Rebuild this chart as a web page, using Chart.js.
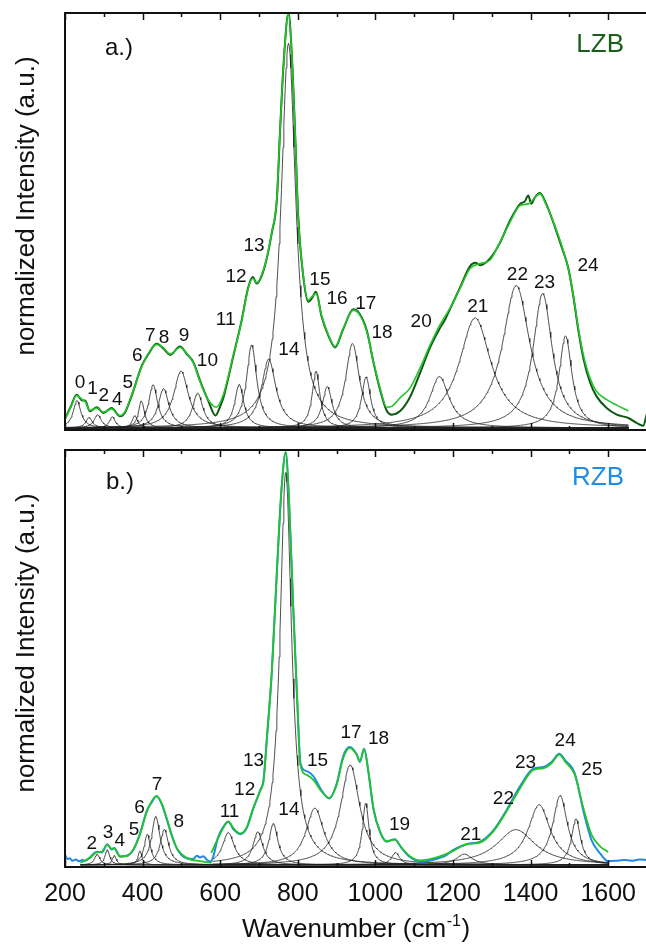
<!DOCTYPE html>
<html>
<head>
<meta charset="utf-8">
<script src="https://cdn.jsdelivr.net/npm/chart.js@4.4.1/dist/chart.umd.min.js"></script>
<style>
html,body{margin:0;padding:0;overflow:hidden;background:#fff;width:646px;height:947px;}
#wrap{position:relative;width:650px;height:947px;}
canvas{display:block;}
</style>
</head>
<body>
<div id="wrap">
<canvas id="cTop" width="650" height="440"></canvas>
<canvas id="cBot" width="650" height="507"></canvas>
</div>
<script>
// ---------------- axis ticks ----------------
const xTickValues = [200, 400, 600, 800, 1000, 1200, 1400, 1600];
const xTickLabels = ['200', '400', '600', '800', '1000', '1200', '1400', '1600'];
const xMinorTicks = [300, 500, 700, 900, 1100, 1300, 1500, 1700];

// ---------------- a.) LZB ----------------
const lzbFitWave = [200,215,230,245,252,264,282,299,320,342,355,372,398,415,436,453,471,496,514,531,548,569,590,608,634,655,672,684,694,715,733,746,754,763,776,784,793,801,814,827,836,847,861,879,896,917,943,960,978,995,1012,1029,1042,1063,1089,1115,1141,1166,1192,1218,1244,1270,1295,1321,1347,1373,1394,1424,1441,1459,1480,1497,1510,1523,1536,1553,1570,1596,1622,1652];
const lzbFitInt = [0.020,0.050,0.078,0.068,0.064,0.042,0.048,0.038,0.046,0.030,0.040,0.080,0.148,0.180,0.201,0.194,0.178,0.194,0.180,0.156,0.112,0.068,0.050,0.080,0.176,0.256,0.336,0.360,0.350,0.392,0.472,0.552,0.712,0.871,1.000,0.911,0.712,0.511,0.368,0.308,0.316,0.324,0.272,0.224,0.196,0.240,0.284,0.272,0.232,0.160,0.096,0.050,0.052,0.072,0.096,0.144,0.200,0.248,0.288,0.336,0.384,0.396,0.404,0.448,0.496,0.536,0.540,0.564,0.536,0.496,0.440,0.384,0.320,0.240,0.176,0.120,0.088,0.068,0.055,0.041];
const lzbDataWave = [200,215,230,245,252,264,282,299,320,342,355,372,398,415,436,453,471,496,514,531,548,569,588,600,608,634,655,672,684,694,715,733,746,754,763,776,784,793,801,814,827,836,847,861,879,896,917,943,960,978,995,1012,1029,1042,1063,1089,1115,1141,1166,1180,1192,1218,1244,1258,1270,1295,1321,1347,1373,1385,1394,1402,1410,1424,1441,1459,1480,1497,1510,1523,1536,1553,1570,1596,1622,1652,1673,1690,1700];
const lzbDataInt = [0.022,0.052,0.080,0.066,0.066,0.040,0.050,0.036,0.048,0.028,0.038,0.078,0.150,0.178,0.203,0.192,0.176,0.196,0.178,0.158,0.114,0.066,0.030,0.052,0.072,0.174,0.258,0.338,0.364,0.348,0.390,0.470,0.550,0.710,0.872,1.000,0.910,0.712,0.512,0.366,0.304,0.312,0.328,0.270,0.222,0.194,0.238,0.286,0.274,0.234,0.158,0.092,0.042,0.032,0.040,0.074,0.132,0.194,0.240,0.262,0.286,0.338,0.390,0.398,0.392,0.408,0.446,0.500,0.540,0.546,0.560,0.540,0.554,0.566,0.538,0.494,0.436,0.386,0.318,0.236,0.168,0.110,0.076,0.048,0.032,0.024,0.012,0.005,0.035];
const lzbFitWindows = [[200, 1652]];
const lzbPeakNames   = ['0','1','2','4','5','6','7','8','9','10','11','12','13','14','15','16','17','18','20','21','22','23','24'];
const lzbPeakCenters = [231,262,284,322,380,397,427,454,499,542,649,681,776,725,847,876,941,976,1165,1257,1363,1431,1490];
const lzbPeakHeights = [0.066,0.025,0.032,0.027,0.030,0.066,0.104,0.095,0.137,0.084,0.105,0.200,0.927,0.166,0.137,0.100,0.204,0.123,0.124,0.265,0.343,0.324,0.222];
const lzbPeakFwhm    = [24,20,22,18,16,18,28,33,46,32,28,32,46,45,24,30,43,28,60,100,86,60,40];
const lzbLabelWave   = [239,271,300,335,362,386,420,455,507,567,614,641,687,777,857,901,975,1017,1118,1264,1366,1436,1548];
const lzbLabelInt    = [0.110,0.094,0.077,0.068,0.108,0.174,0.221,0.218,0.221,0.162,0.260,0.365,0.438,0.189,0.357,0.312,0.300,0.229,0.257,0.293,0.368,0.350,0.391];

// ---------------- b.) RZB ----------------
const rzbFitLeftWave = [240,264,282,295,309,320,327,342,359,376,393,411,423,436,449,462,475,488,514,548,578];
const rzbFitLeftInt = [0.005,0.017,0.030,0.032,0.049,0.039,0.039,0.021,0.021,0.037,0.073,0.129,0.153,0.165,0.149,0.113,0.073,0.041,0.017,0.009,0.005];
const rzbFitRightWave = [577,595,608,621,634,651,668,685,703,712,720,733,746,758,769,778,788,799,807,823,840,861,881,900,917,934,952,960,971,982,995,1012,1029,1050,1068,1089,1115,1158,1201,1235,1270,1304,1338,1373,1407,1433,1454,1474,1489,1514,1536,1557,1579,1600];
const rzbFitRightInt = [0.029,0.065,0.089,0.105,0.089,0.076,0.090,0.137,0.178,0.205,0.300,0.464,0.704,0.904,0.996,0.864,0.624,0.384,0.240,0.217,0.205,0.177,0.161,0.193,0.257,0.282,0.265,0.250,0.279,0.225,0.137,0.081,0.057,0.061,0.041,0.021,0.011,0.018,0.034,0.050,0.054,0.081,0.129,0.185,0.229,0.233,0.245,0.266,0.249,0.217,0.137,0.073,0.045,0.031];
const rzbDataWave = [200,206,212,220,228,236,244,252,264,282,295,309,320,327,342,359,376,393,411,423,436,449,462,475,488,500,514,530,540,548,556,566,575,582,595,608,621,634,651,668,685,703,712,720,733,746,758,769,778,788,799,807,823,840,861,881,900,917,934,952,960,971,982,995,1012,1029,1050,1068,1089,1115,1140,1158,1180,1201,1235,1270,1304,1338,1373,1407,1433,1454,1474,1489,1514,1536,1557,1579,1600,1620,1640,1660,1680,1700];
const rzbDataInt = [0.025,0.014,0.016,0.010,0.013,0.009,0.012,0.010,0.018,0.032,0.030,0.050,0.037,0.041,0.020,0.022,0.036,0.075,0.131,0.150,0.166,0.147,0.111,0.071,0.040,0.024,0.016,0.014,0.022,0.018,0.021,0.012,0.008,0.020,0.068,0.092,0.104,0.086,0.074,0.088,0.135,0.180,0.207,0.302,0.466,0.706,0.906,0.994,0.866,0.626,0.386,0.244,0.226,0.214,0.180,0.160,0.195,0.262,0.284,0.266,0.248,0.280,0.224,0.134,0.079,0.056,0.062,0.040,0.019,0.008,0.010,0.015,0.022,0.036,0.050,0.056,0.083,0.132,0.190,0.232,0.236,0.248,0.268,0.252,0.220,0.130,0.060,0.028,0.009,0.010,0.012,0.010,0.013,0.012];
const rzbFitWindows = [[240, 580], [580, 1600]];
const rzbPeakNames   = ['2','3','4','5','6','7','8','11','12','13','14','15','17','18','19','21','22','23','24','25'];
const rzbPeakCenters = [283,309,327,393,412,434,456,621,697,769,737,844,935,975,1052,1229,1362,1422,1476,1517];
const rzbPeakHeights = [0.026,0.037,0.023,0.034,0.074,0.117,0.086,0.078,0.080,0.948,0.100,0.137,0.241,0.149,0.030,0.026,0.085,0.145,0.167,0.111];
const rzbPeakFwhm    = [16,14,12,12,20,26,26,37,30,36,28,56,60,21,25,50,120,69,46,28];
const rzbLabelWave   = [269,311,341,378,392,437,493,624,663,686,777,851,937,1008,1062,1246,1330,1387,1489,1558];
const rzbLabelInt    = [0.050,0.077,0.058,0.085,0.137,0.194,0.103,0.128,0.182,0.252,0.134,0.251,0.319,0.303,0.097,0.072,0.160,0.246,0.300,0.230];

// ---------------- helpers ----------------
const FONT = '"Liberation Sans", Arial, Helvetica, sans-serif';
const FIT_GREEN = '#22c42a';

function zip(xs, ys) { return xs.map((x, i) => ({ x: x, y: ys[i] })); }

// Lorentzian fit component defined by the read centre / height / FWHM
function componentPoints(c, h, fwhm, windows) {
  const win = windows.find(w => c >= w[0] && c <= w[1]) || windows[0];
  const hw = fwhm / 2, pts = [];
  for (let x = win[0]; x <= win[1]; x += 2) pts.push({ x: x, y: h / (1 + ((x - c) / hw) * ((x - c) / hw)) });
  return pts;
}

function componentSets(centers, heights, fwhm, windows) {
  return centers.map((c, i) => ({
    data: componentPoints(c, heights[i], fwhm[i], windows),
    borderColor: 'rgba(35,35,35,0.8)', borderWidth: 1, pointRadius: 0, order: 3, tension: 0,
    borderJoinStyle: 'round'
  }));
}

function lineSet(xs, ys, color, width, order) {
  return { data: zip(xs, ys), borderColor: color, borderWidth: width, pointRadius: 0,
           order: order, cubicInterpolationMode: 'monotone' };
}

const decor = {
  id: 'decor',
  afterDraw(chart, args, o) {
    const { ctx, chartArea: a, scales: { x, y } } = chart;
    ctx.save();
    // inward tick marks, top and bottom
    ctx.strokeStyle = '#111';
    ctx.lineWidth = 1.5;
    const tick = (v, len) => {
      const px = Math.round(x.getPixelForValue(v)) + 0.5;
      ctx.beginPath();
      ctx.moveTo(px, a.top); ctx.lineTo(px, a.top + len);
      ctx.moveTo(px, a.bottom); ctx.lineTo(px, a.bottom - len);
      ctx.stroke();
    };
    xTickValues.forEach(v => tick(v, 7));
    xMinorTicks.forEach(v => tick(v, 4));
    // frame
    ctx.lineWidth = 2;
    ctx.strokeRect(a.left, a.top, a.right - a.left, a.bottom - a.top);
    // peak numbers
    ctx.fillStyle = '#111';
    ctx.font = '19px ' + FONT;
    ctx.textAlign = 'center';
    ctx.textBaseline = 'middle';
    o.names.forEach((n, i) => ctx.fillText(n, x.getPixelForValue(o.labelWave[i]), y.getPixelForValue(o.labelInt[i])));
    // panel tag
    ctx.font = '24px ' + FONT;
    ctx.textAlign = 'left';
    ctx.fillText(o.tag, o.tagX, o.tagY);
    // sample name
    ctx.font = '26px ' + FONT;
    ctx.fillStyle = o.sampleColor;
    ctx.textAlign = 'right';
    ctx.fillText(o.sample, o.sampleX, o.sampleY);
    // y title
    ctx.fillStyle = '#111';
    ctx.font = '26px ' + FONT;
    ctx.textAlign = 'center';
    ctx.save();
    ctx.translate(o.yTitleX, o.yTitleY);
    ctx.rotate(-Math.PI / 2);
    ctx.fillText('normalized Intensity (a.u.)', 0, 0);
    ctx.restore();
    // x title
    if (o.xTitle) {
      const base = o.xTitleBase, cx = (a.left + a.right) / 2;
      const f1 = '26px ' + FONT, f2 = '16px ' + FONT;
      ctx.textBaseline = 'alphabetic';
      ctx.textAlign = 'left';
      ctx.font = f1; const w1 = ctx.measureText('Wavenumber (cm').width; const w3 = ctx.measureText(')').width;
      ctx.font = f2; const w2 = ctx.measureText('-1').width + 1;
      let sx = cx - (w1 + w2 + w3) / 2;
      ctx.font = f1; ctx.fillText('Wavenumber (cm', sx, base);
      ctx.font = f2; ctx.fillText('-1', sx + w1 + 0.5, base - 11);
      ctx.font = f1; ctx.fillText(')', sx + w1 + w2, base);
    }
    ctx.restore();
  }
};

function makeChart(id, datasets, padding, xDisplay, deco) {
  return new Chart(document.getElementById(id), {
    type: 'line',
    data: { datasets: datasets },
    options: {
      responsive: false, animation: false, events: [],
      layout: { padding: padding },
      plugins: { legend: { display: false }, tooltip: { enabled: false }, decor: deco },
      elements: { line: { fill: false } },
      scales: {
        x: {
          type: 'linear', min: 200, max: 1700, display: xDisplay,
          grid: { display: false }, border: { display: false },
          ticks: { includeBounds: false, font: { size: 25, family: FONT }, color: '#111', padding: 4, maxRotation: 0,
                   callback: (v) => { const i = xTickValues.indexOf(v); return i >= 0 ? xTickLabels[i] : ''; } },
          afterBuildTicks: (s) => { s.ticks = xTickValues.map(v => ({ value: v })); },
          afterFit: (s) => { s.height = xDisplay ? 80 : 0; }
        },
        y: { type: 'linear', min: -0.005, max: 1.0, display: false }
      }
    },
    plugins: [decor]
  });
}

// ---------------- top chart ----------------
makeChart('cTop',
  componentSets(lzbPeakCenters, lzbPeakHeights, lzbPeakFwhm, lzbFitWindows).concat([
    lineSet(lzbDataWave, lzbDataInt, '#0c5a12', 2, 2),
    lineSet(lzbFitWave, lzbFitInt, FIT_GREEN, 1.6, 1)
  ]),
  { left: 65, right: 3, top: 13, bottom: 10 }, false,
  { names: lzbPeakNames, labelWave: lzbLabelWave, labelInt: lzbLabelInt,
    tag: 'a.)', tagX: 105, tagY: 48, sample: 'LZB', sampleColor: '#17601a', sampleX: 624, sampleY: 45,
    yTitleX: 27, yTitleY: 206, xTitle: false });

// ---------------- bottom chart ----------------
makeChart('cBot',
  componentSets(rzbPeakCenters, rzbPeakHeights, rzbPeakFwhm, rzbFitWindows).concat([
    lineSet(rzbDataWave, rzbDataInt, '#2189e4', 2, 2),
    lineSet(rzbFitLeftWave, rzbFitLeftInt, FIT_GREEN, 1.8, 1),
    lineSet(rzbFitRightWave, rzbFitRightInt, FIT_GREEN, 1.8, 1)
  ]),
  { left: 65, right: 3, top: 10, bottom: 0 }, true,
  { names: rzbPeakNames, labelWave: rzbLabelWave, labelInt: rzbLabelInt,
    tag: 'b.)', tagX: 106, tagY: 42, sample: 'RZB', sampleColor: '#1e8de8', sampleX: 624, sampleY: 38,
    yTitleX: 27, yTitleY: 203, xTitle: true, xTitleBase: 497 });
</script>
</body>
</html>
